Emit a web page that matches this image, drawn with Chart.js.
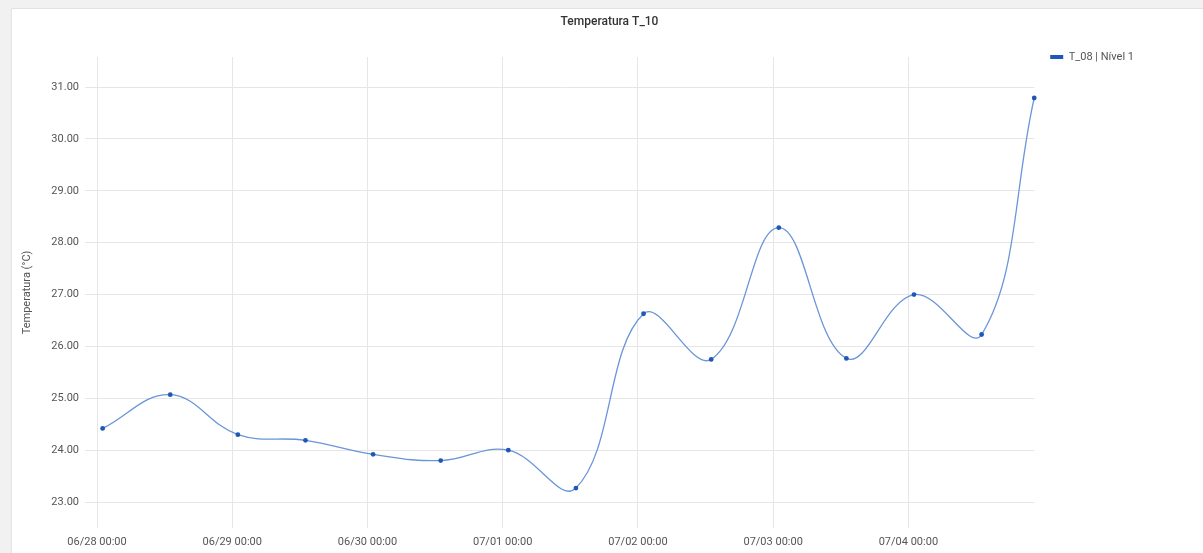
<!DOCTYPE html>
<html>
<head>
<meta charset="utf-8">
<title>Temperatura T_10</title>
<script src="https://cdn.jsdelivr.net/npm/chart.js@4"></script>
<style>
  html, body { margin: 0; padding: 0; background: #f1f1f1; }
  .card {
    position: absolute; left: 11px; top: 8px;
    width: 1191px; height: 544px;
    background: #fff;
    border-left: 1px solid #e4e4e4;
    border-top: 1px solid #e2e2e2;
  }
  canvas { display: block; }
</style>
</head>
<body>
<div class="card"><canvas id="chart" width="1191" height="544"></canvas></div>
<script>
const seriesName = 'T_08 | Nível 1';
const readTimes = ['06/28 01:00', '06/28 13:00', '06/29 01:00', '06/29 13:00', '06/30 01:00',
  '06/30 13:00', '07/01 01:00', '07/01 13:00', '07/02 01:00', '07/02 13:00',
  '07/03 01:00', '07/03 13:00', '07/04 01:00', '07/04 13:00', '07/04 22:20'];
const temps = [24.42, 25.07, 24.30, 24.19, 23.92, 23.80, 24.00, 23.27, 26.63, 25.75,
  28.29, 25.77, 27.00, 26.23, 30.79];
const xTickLabels = ['06/28 00:00', '06/29 00:00', '06/30 00:00', '07/01 00:00',
  '07/02 00:00', '07/03 00:00', '07/04 00:00'];
const yTicks = [23, 24, 25, 26, 27, 28, 29, 30, 31];

// hours since 06/28 00:00
function hoursFrom(s) {
  const [d, t] = s.split(' ');
  const [mo, da] = d.split('/').map(Number);
  const [h, mi] = t.split(':').map(Number);
  return (Date.UTC(2020, mo - 1, da, h, mi) - Date.UTC(2020, 5, 28)) / 3600000;
}

const points = readTimes.map((t, i) => ({ x: hoursFrom(t), y: temps[i] }));
const xTickValues = xTickLabels.map(hoursFrom);

const font = { family: 'Roboto', size: 11 };
const gridColor = '#e6e6e6';

// centre the title over the whole card instead of the space left of the legend
const fullWidthTitle = {
  id: 'fullWidthTitle',
  afterLayout(chart) {
    chart.titleBlock.left = 0;
    chart.titleBlock.right = chart.width + 4;
  }
};

new Chart(document.getElementById('chart'), {
  type: 'line',
  data: {
    datasets: [{
      label: seriesName,
      data: points,
      borderColor: '#6a95d8',
      backgroundColor: '#1d58b8',
      borderWidth: 1.3,
      tension: 0.4,
      clip: false,
      pointRadius: 2.4,
      pointBackgroundColor: '#1d58b8',
      pointBorderColor: '#1d58b8',
      pointBorderWidth: 0
    }]
  },
  plugins: [fullWidthTitle],
  options: {
    responsive: false,
    animation: false,
    layout: { padding: { left: 0, right: 59, top: 0, bottom: 0 } },
    plugins: {
      title: {
        display: true,
        text: 'Temperatura T_10',
        color: '#333',
        font: { family: 'Roboto', size: 12, weight: '500' },
        padding: { top: 6, bottom: 27.6 }
      },
      legend: {
        position: 'right',
        align: 'start',
        title: { display: true, text: ' ', font: { size: 11 }, padding: { top: 6.5, bottom: 6.8 } },
        labels: {
          boxWidth: 13,
          boxHeight: 4,
          padding: 16,
          color: '#555',
          font: font,
          generateLabels: chart => Chart.defaults.plugins.legend.labels.generateLabels(chart)
            .map(item => Object.assign(item, { lineWidth: 0 }))
        }
      },
      tooltip: { enabled: false }
    },
    scales: {
      x: {
        type: 'linear',
        min: 0,
        max: points[points.length - 1].x,
        afterBuildTicks: axis => { axis.ticks = xTickValues.map(v => ({ value: v })); },
        afterFit: axis => { axis.height = 25; },
        grid: { color: gridColor, drawTicks: false },
        border: { display: false },
        ticks: {
          autoSkip: false,
          maxRotation: 0,
          padding: 8,
          color: '#555',
          font: font,
          callback: (v, i) => xTickLabels[i]
        }
      },
      y: {
        min: 22.5,
        max: 31.58,
        afterBuildTicks: axis => { axis.ticks = yTicks.map(v => ({ value: v })); },
        afterFit: axis => { axis.width = 85; },
        grid: { color: gridColor, tickLength: 12 },
        border: { display: false },
        title: {
          display: true,
          text: 'Temperatura (°C)',
          color: '#555',
          font: font,
          padding: { top: 8.4, bottom: 0 }
        },
        ticks: {
          padding: 6,
          color: '#555',
          font: font,
          callback: v => v.toFixed(2)
        }
      }
    }
  }
});
</script>
</body>
</html>
